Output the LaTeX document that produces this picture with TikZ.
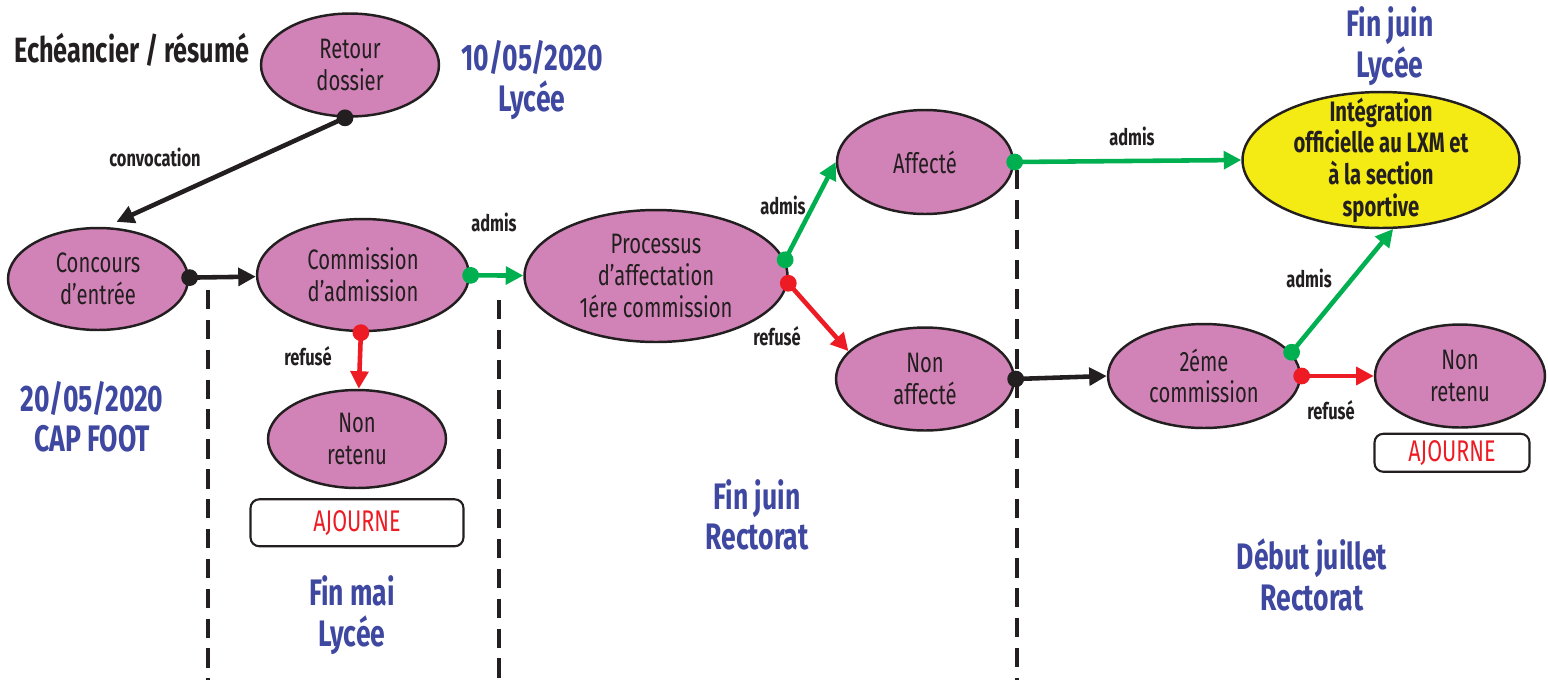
\documentclass[tikz,border=0pt]{standalone}
\usepackage{fontspec}
\setmainfont[FakeStretch=0.72]{Fira Sans}
\usetikzlibrary{arrows.meta, positioning, shapes}

\definecolor{etape}{RGB}{209,131,183}
\definecolor{final}{RGB}{245,235,20}
\definecolor{ink}{RGB}{35,31,32}
\definecolor{admisvert}{RGB}{0,176,80}
\definecolor{refusrouge}{RGB}{237,28,36}
\definecolor{datebleu}{RGB}{63,72,160}

\begin{document}
\begin{tikzpicture}[x=0.02cm, y=-0.02cm,
    etat/.style={ellipse, draw=ink, line width=1.4pt, fill=etape, inner sep=0pt, align=center, text=ink, font=\fontsize{16}{18}\selectfont},
    fleche/.style={line width=2.6pt, {Circle[length=9.5pt]}-{Triangle[length=10pt, width=10pt]}, shorten <=-4.5pt},
    lien/.style={font=\bfseries\fontsize{13}{15}\selectfont, text=ink},
    date/.style={font=\bfseries\fontsize{21}{23}\selectfont, text=datebleu, align=center},
    ajourne/.style={draw=ink, line width=1.2pt, rounded corners=5pt, fill=white, text=refusrouge, font=\fontsize{17}{19}\selectfont},
    coupe/.style={line width=2pt, dash pattern=on 11pt off 6pt, draw=ink}]
    \useasboundingbox (0,0) rectangle (1548,680);

    \draw[coupe] (208,290) -- (208,680);
    \draw[coupe] (499,300) -- (499,680);
    \draw[coupe] (1017,170) -- (1017,680);

    \node (Titre) [anchor=west, font=\bfseries\fontsize{20}{22}\selectfont, text=ink] at (8,50) {Echéancier / résumé};

    \node (Retour) [etat, minimum width=3.56cm, minimum height=2.06cm] at (350,65) {Retour\\dossier};
    \node (Concours) [etat, minimum width=3.6cm, minimum height=2.04cm] at (98,279) {Concours\\d'entrée};
    \node (Commission) [etat, minimum width=4.24cm, minimum height=2.24cm] at (363,275) {Commission\\d'admission};
    \node (NonRetenu) [etat, minimum width=3.56cm, minimum height=1.96cm] at (357,439) {Non\\retenu};
    \node (Ajourne) [ajourne, minimum width=4.26cm, minimum height=0.94cm, below=0.18cm of NonRetenu] {AJOURNE};
    \node (Processus) [etat, minimum width=5.26cm, minimum height=2.64cm] at (656,276) {Processus\\d'affectation\\1ére commission};
    \node (Affecte) [etat, minimum width=3.52cm, minimum height=2.08cm] at (925,162) {Affecté};
    \node (NonAffecte) [etat, minimum width=3.56cm, minimum height=2.06cm] at (925,379) {Non\\affecté};
    \node (Integration) [etat, fill=final, inner ysep=-9pt, minimum width=5.54cm, minimum height=2.72cm, font=\bfseries\fontsize{16}{18}\selectfont] at (1381,160) {Intégration\\officielle au LXM et\\à la section\\sportive};
    \node (Commission2) [etat, minimum width=3.84cm, minimum height=2.08cm] at (1204,376) {2éme\\commission};
    \node (NonRetenu2) [etat, minimum width=3.4cm, minimum height=2.06cm] at (1460,376) {Non\\retenu};
    \node (Ajourne2) [ajourne, minimum width=3.1cm, minimum height=0.76cm, below=0.08cm of NonRetenu2, xshift=-0.16cm] {AJOURNE};

    \draw[fleche, ink, shorten >=7pt] (Retour.-95) -- (Concours.82);
    \draw[fleche, ink] (Concours) -- (Commission);
    \draw[fleche, admisvert] (Commission) -- (Processus);
    \draw[fleche, refusrouge] (Commission) -- (NonRetenu);
    \draw[fleche, admisvert] (Processus.7) -- (Affecte.west);
    \draw[fleche, refusrouge] (Processus.-3) -- (NonAffecte.160);
    \draw[fleche, admisvert] (Affecte.east) -- (Integration.west);
    \draw[fleche, ink] (NonAffecte.east) -- (Commission2.west);
    \draw[fleche, admisvert] (Commission2.15) -- (Integration.-80);
    \draw[fleche, refusrouge] (Commission2) -- (NonRetenu2);

    \node (lConvocation) [lien] at (155,157) {convocation};
    \node (lAdmis) [lien] at (494,222) {admis};
    \node (lRefus) [lien] at (308,356) {refusé};
    \node (lAdmisAff) [lien] at (783,205) {admis};
    \node (lRefusAff) [lien] at (777,336) {refusé};
    \node (lAdmisLXM) [lien] at (1132,136) {admis};
    \node (lAdmis2) [lien] at (1309,278) {admis};
    \node (lRefus2) [lien] at (1331,410) {refusé};

    \node (dRetour) [date] at (532,80) {10/05/2020\\Lycée};
    \node (dConcours) [date] at (92,417) {20/05/2020\\CAP FOOT};
    \node (dCommission) [date] at (352,615) {Fin mai\\Lycée};
    \node (dRectorat) [date] at (757,515) {Fin juin\\Rectorat};
    \node (dRectorat2) [date] at (1312,575) {Début juillet\\Rectorat};
    \node (dLycee) [date] at (1390,46) {Fin juin\\Lycée};
\end{tikzpicture}
\end{document}
